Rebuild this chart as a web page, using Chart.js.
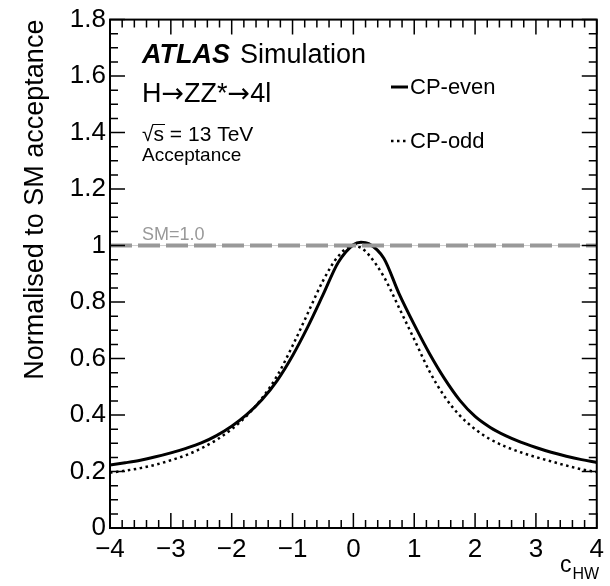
<!DOCTYPE html>
<html>
<head>
<meta charset="utf-8">
<script src="https://cdn.jsdelivr.net/npm/chart.js@4.4.1/dist/chart.umd.min.js"></script>
<style>
  html,body{margin:0;padding:0;background:#fff;}
  #wrap{width:610px;height:586px;position:relative;}
</style>
</head>
<body>
<div id="wrap"><canvas id="grafico"></canvas></div>
<script>
// valores
const cHW = [-4,-3.75,-3.5,-3.25,-3,-2.75,-2.5,-2.25,-2,-1.75,-1.5,-1.25,-1,-0.75,-0.5,-0.25,0,0.125,0.25,0.5,0.75,1,1.25,1.5,1.75,2,2.25,2.5,2.75,3,3.25,3.5,3.75,4];
const cpEven = [0.223,0.231,0.240,0.252,0.266,0.282,0.301,0.327,0.360,0.402,0.455,0.523,0.610,0.712,0.825,0.940,1.003,1.012,1.007,0.955,0.830,0.720,0.618,0.528,0.452,0.395,0.356,0.327,0.304,0.285,0.268,0.254,0.242,0.232];
const cpOdd = [0.196,0.203,0.212,0.224,0.240,0.258,0.282,0.312,0.350,0.398,0.460,0.540,0.645,0.760,0.875,0.962,1.000,0.992,0.968,0.890,0.780,0.668,0.555,0.465,0.398,0.350,0.314,0.288,0.268,0.251,0.236,0.221,0.208,0.198];
const smRange = [-4,4];
const smLevel = [1.0,1.0];
const xTickLabels = ['\u22124','\u22123','\u22122','\u22121','0','1','2','3','4'];
const yTickLabels = ['0','0.2','0.4','0.6','0.8','1','1.2','1.4','1.6','1.8'];

const FUENTE = '"Liberation Sans", Arial, Helvetica, sans-serif';
const FLECHA = '"DejaVu Sans", sans-serif';

const puntos=(xs,ys)=>xs.map((x,i)=>({x:x,y:ys[i]}));

// escribe trozos de texto con fuentes distintas uno detras de otro
const trozos=(ctx,lista,x,y)=>{
  lista.forEach(([txt,font])=>{
    ctx.font=font;
    ctx.fillText(txt,x,y);
    x+=ctx.measureText(txt).width;
  });
};

const decoracion={
  id:'decoracion',
  afterDraw(chart){
    const ctx=chart.ctx;
    const a=chart.chartArea;
    const sx=chart.scales.x, sy=chart.scales.y;
    ctx.save();
    // ticks hacia dentro en los cuatro lados
    ctx.strokeStyle='#000';
    ctx.lineWidth=1.5;
    ctx.beginPath();
    for(let k=0;k<=40;k++){
      const v=-4+k*0.2;
      const px=sx.getPixelForValue(v);
      const len=(k%5===0)?15:8;
      ctx.moveTo(px,a.bottom);ctx.lineTo(px,a.bottom-len);
      ctx.moveTo(px,a.top);ctx.lineTo(px,a.top+len);
    }
    for(let k=0;k<=36;k++){
      const v=k*0.05;
      const py=sy.getPixelForValue(v);
      const len=(k%4===0)?15:8;
      ctx.moveTo(a.left,py);ctx.lineTo(a.left+len,py);
      ctx.moveTo(a.right,py);ctx.lineTo(a.right-len,py);
    }
    ctx.stroke();
    ctx.lineWidth=2;
    ctx.strokeRect(a.left,a.top,a.right-a.left,a.bottom-a.top);

    // textos
    ctx.fillStyle='#000';
    ctx.textBaseline='alphabetic';
    ctx.textAlign='left';
    ctx.font='italic bold 27px '+FUENTE;
    ctx.fillText('ATLAS',142,63);
    const wA=ctx.measureText('ATLAS').width;
    ctx.font='27px '+FUENTE;
    ctx.fillText('Simulation',142+wA+10,63);
    trozos(ctx,[['H','27px '+FUENTE],['\u2192','27px '+FLECHA],['ZZ*','27px '+FUENTE],['\u2192','27px '+FLECHA],['4l','27px '+FUENTE]],142,102);
    ctx.font='21px '+FUENTE;
    ctx.fillText('\u221As = 13 TeV',142,141);
    const wr=ctx.measureText('\u221A').width;
    const ws=ctx.measureText('s').width;
    ctx.lineWidth=1;
    ctx.beginPath();ctx.moveTo(142+wr-1,124.5);ctx.lineTo(142+wr+ws+1,124.5);ctx.stroke();
    ctx.font='19px '+FUENTE;
    ctx.fillText('Acceptance',142,161);
    ctx.fillStyle='#999';
    ctx.font='18px '+FUENTE;
    ctx.fillText('SM=1.0',142,240);

    // leyenda
    const ds=chart.data.datasets;
    ctx.fillStyle='#000';
    ctx.font='22px '+FUENTE;
    ctx.textBaseline='middle';
    [[ds[2],88],[ds[3],142]].forEach(([d,y])=>{
      ctx.save();
      ctx.strokeStyle=d.borderColor;
      ctx.lineWidth=d.borderWidth;
      ctx.setLineDash(d.borderDash||[]);
      ctx.beginPath();ctx.moveTo(391,y-1);ctx.lineTo(408,y-1);ctx.stroke();
      ctx.restore();
      ctx.fillText(d.label,410,y);
    });

    // titulos de ejes
    ctx.textBaseline='alphabetic';
    ctx.font='23px '+FUENTE;
    ctx.fillText('c',560,572);
    const wc=ctx.measureText('c').width;
    ctx.font='16px '+FUENTE;
    ctx.fillText('HW',560+wc+1,579);
    ctx.save();
    ctx.translate(43,a.top);
    ctx.rotate(-Math.PI/2);
    ctx.textAlign='right';
    ctx.font='27px '+FUENTE;
    ctx.fillText('Normalised to SM acceptance',0,0);
    ctx.restore();
    ctx.restore();
  }
};

new Chart(document.getElementById('grafico'),{
  type:'line',
  data:{
    datasets:[
      {label:'SM', data:puntos(smRange,smLevel), borderColor:'#999', borderWidth:4, borderDash:[22,6], pointRadius:0, fill:false},
      {label:'SM guia', data:puntos(smRange,smLevel), borderColor:'#ccc', borderWidth:1, pointRadius:0, fill:false},
      {label:'CP-even', data:puntos(cHW,cpEven), borderColor:'#000', borderWidth:3, pointRadius:0, cubicInterpolationMode:'monotone', fill:false},
      {label:'CP-odd', data:puntos(cHW,cpOdd), borderColor:'#000', borderWidth:2.5, borderDash:[2.5,3.5], pointRadius:0, cubicInterpolationMode:'monotone', fill:false}
    ]
  },
  options:{
    responsive:true,
    maintainAspectRatio:false,
    animation:false,
    layout:{padding:{top:19,right:6,left:0,bottom:0}},
    plugins:{legend:{display:false},tooltip:{enabled:false}},
    scales:{
      x:{
        type:'linear', min:-4, max:4,
        grid:{display:false,drawTicks:false}, border:{display:false},
        ticks:{stepSize:1, padding:6, color:'#000', font:{family:FUENTE,size:26}, maxRotation:0,
          callback:(v,i)=>xTickLabels[i]},
        afterFit:(s)=>{s.height=58;}
      },
      y:{
        type:'linear', min:0, max:1.8,
        grid:{display:false,drawTicks:false}, border:{display:false},
        ticks:{stepSize:0.2, padding:4, color:'#000', font:{family:FUENTE,size:26},
          callback:(v,i)=>yTickLabels[i]},
        afterFit:(s)=>{s.width=110;}
      }
    }
  },
  plugins:[decoracion]
});
</script>
</body>
</html>
